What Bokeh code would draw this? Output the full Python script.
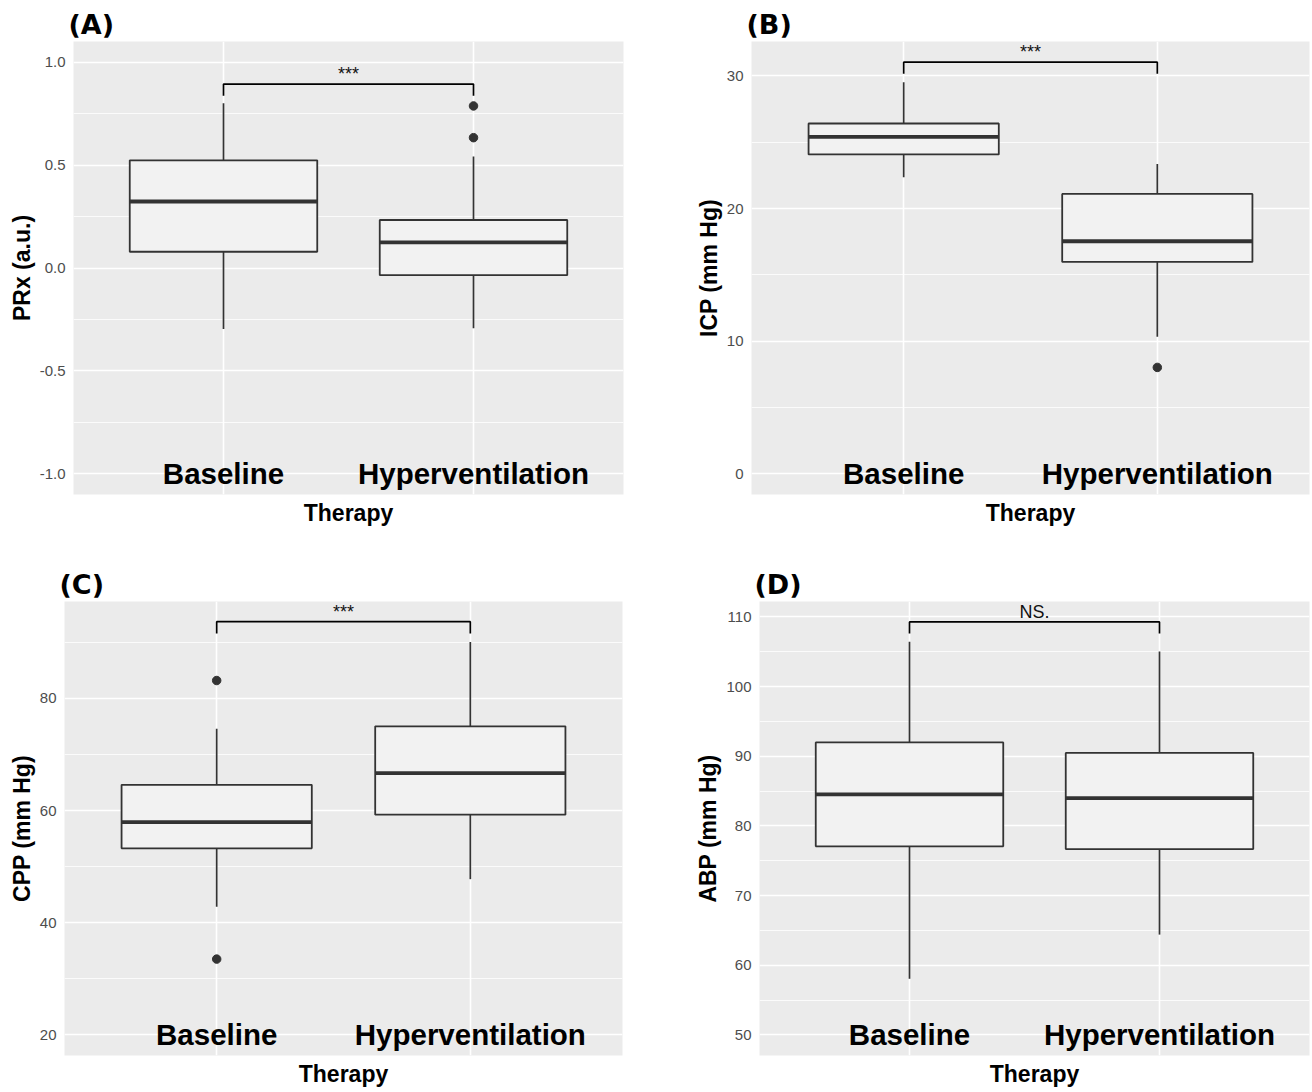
from bokeh.plotting import figure
from bokeh.layouts import row, column
from bokeh.models import Range1d, FixedTicker, ColumnDataSource
from bokeh.core.properties import value
from bokeh.embed import file_html
from bokeh.resources import INLINE

categories = ["Baseline", "Hyperventilation"]
x_title = "Therapy"

# (A) PRx
prx_lower = [-0.296, -0.293]
prx_q1 = [0.079, -0.035]
prx_median = [0.323, 0.124]
prx_q3 = [0.523, 0.233]
prx_upper = [0.800, 0.541]
prx_out_cat = ["Hyperventilation", "Hyperventilation"]
prx_out_val = [0.787, 0.633]
prx_bracket = [0.893, 0.837]
prx_sig = "***"
prx_ticks = [-1.0, -0.5, 0.0, 0.5, 1.0]
prx_tick_labels = ["-1.0", "-0.5", "0.0", "0.5", "1.0"]
prx_minor = [-0.75, -0.25, 0.25, 0.75]
prx_limits = [-1.1, 1.1]

# (B) ICP
icp_lower = [22.36, 10.34]
icp_q1 = [24.09, 15.98]
icp_median = [25.41, 17.54]
icp_q3 = [26.42, 21.11]
icp_upper = [29.53, 23.37]
icp_out_cat = ["Hyperventilation"]
icp_out_val = [8.03]
icp_bracket = [31.04, 30.16]
icp_sig = "***"
icp_ticks = [0, 10, 20, 30]
icp_tick_labels = ["0", "10", "20", "30"]
icp_minor = [5, 15, 25]
icp_limits = [-1.55, 32.6]

# (C) CPP
cpp_lower = [42.85, 47.76]
cpp_q1 = [53.27, 59.27]
cpp_median = [57.94, 66.67]
cpp_q3 = [64.6, 75.03]
cpp_upper = [74.6, 90.06]
cpp_out_cat = ["Baseline", "Baseline"]
cpp_out_val = [83.2, 33.5]
cpp_bracket = [93.7, 91.6]
cpp_sig = "***"
cpp_ticks = [20, 40, 60, 80]
cpp_tick_labels = ["20", "40", "60", "80"]
cpp_minor = [30, 50, 70, 90]
cpp_limits = [16.3, 97.3]

# (D) ABP
abp_lower = [58.05, 64.39]
abp_q1 = [77.06, 76.67]
abp_median = [84.51, 83.98]
abp_q3 = [91.97, 90.46]
abp_upper = [106.44, 105.03]
abp_out_cat = []
abp_out_val = []
abp_bracket = [109.27, 107.6]
abp_sig = "NS."
abp_ticks = [50, 60, 70, 80, 90, 100, 110]
abp_tick_labels = ["50", "60", "70", "80", "90", "100", "110"]
abp_minor = [55, 65, 75, 85, 95, 105]
abp_limits = [47.04, 112.2]

BOX_W = 0.75
DARK = "#333333"
TXT = "Liberation Sans"


def panel(tag, ylabel, lower, q1, med, q3, upper, out_cat, out_val, bracket,
          sig, ticks, tick_labels, minor, limits, width, height,
          bl, br, bt, bb):
    pos = [i + 1 for i in range(len(categories))]
    p = figure(width=width, height=height, output_backend="svg",
               toolbar_location=None, title=tag,
               x_range=Range1d(pos[0] - 0.6, pos[-1] + 0.6),
               y_range=Range1d(limits[0], limits[1]),
               min_border_left=bl, min_border_right=br,
               min_border_top=bt, min_border_bottom=bb)
    p.background_fill_color = "#EBEBEB"
    p.border_fill_color = "white"
    p.outline_line_color = None

    # title
    p.title.text_font = "DejaVu Sans"
    p.title.text_font_style = "bold"
    p.title.text_font_size = "27px"
    p.title.align = "left"
    p.title.offset = -5
    p.title.standoff = 3
    p.title.text_color = "black"

    # grids
    p.xgrid.ticker = FixedTicker(ticks=pos)
    p.xgrid.grid_line_color = "white"
    p.xgrid.grid_line_width = 1.6
    p.ygrid.ticker = FixedTicker(ticks=ticks, minor_ticks=minor)
    p.ygrid.grid_line_color = "white"
    p.ygrid.grid_line_width = 1.6
    p.ygrid.minor_grid_line_color = "white"
    p.ygrid.minor_grid_line_width = 0.8

    # y axis
    p.yaxis.ticker = FixedTicker(ticks=ticks)
    p.yaxis.major_label_overrides = {t: l for t, l in zip(ticks, tick_labels)}
    p.yaxis.axis_line_color = None
    p.yaxis.major_tick_line_color = None
    p.yaxis.minor_tick_line_color = None
    p.yaxis.major_tick_out = 0
    p.yaxis.major_tick_in = 0
    p.yaxis.minor_tick_out = 0
    p.yaxis.major_label_standoff = 8
    p.yaxis.major_label_text_font = TXT
    p.yaxis.major_label_text_font_size = "15px"
    p.yaxis.major_label_text_color = "#4D4D4D"
    p.yaxis.axis_label = ylabel
    p.yaxis.axis_label_text_font = TXT
    p.yaxis.axis_label_text_font_style = "bold"
    p.yaxis.axis_label_text_font_size = "23px"
    p.yaxis.axis_label_text_color = "black"
    p.yaxis.axis_label_standoff = 2

    # x axis
    p.xaxis.ticker = FixedTicker(ticks=[])
    p.xaxis.axis_line_color = None
    p.xaxis.major_tick_line_color = None
    p.xaxis.minor_tick_line_color = None
    p.xaxis.major_tick_out = 0
    p.xaxis.major_tick_in = 0
    p.xaxis.minor_tick_out = 0
    p.xaxis.major_label_standoff = 0
    p.xaxis.axis_label = x_title
    p.xaxis.axis_label_text_font = TXT
    p.xaxis.axis_label_text_font_style = "bold"
    p.xaxis.axis_label_text_font_size = "23px"
    p.xaxis.axis_label_text_color = "black"
    p.xaxis.axis_label_standoff = 5

    src = ColumnDataSource(dict(
        x=pos, lower=lower, q1=q1, med=med, q3=q3, upper=upper,
        x0=[v - BOX_W / 2 for v in pos], x1=[v + BOX_W / 2 for v in pos]))
    p.segment(x0="x", y0="q3", x1="x", y1="upper", source=src,
              line_color=DARK, line_width=1.7)
    p.segment(x0="x", y0="q1", x1="x", y1="lower", source=src,
              line_color=DARK, line_width=1.7)
    p.vbar(x="x", width=BOX_W, bottom="q1", top="q3", source=src,
           fill_color="#F2F2F2", line_color=DARK, line_width=1.8)
    p.segment(x0="x0", y0="med", x1="x1", y1="med", source=src,
              line_color=DARK, line_width=3.8)
    if out_val:
        ox = [pos[categories.index(c)] for c in out_cat]
        p.scatter(x=ox, y=out_val, size=8.5, color=DARK)

    # significance bracket
    p.line(x=[pos[0], pos[0], pos[-1], pos[-1]],
           y=[bracket[1], bracket[0], bracket[0], bracket[1]],
           line_color="black", line_width=1.7)
    p.text(x=[(pos[0] + pos[-1]) / 2], y=[bracket[0]], text=[sig],
           text_font=value(TXT), text_font_size="18px", text_color="#111111",
           text_align="center", text_baseline="alphabetic", y_offset=-10)

    # category labels inside the panel
    p.text(x=pos, y=[ticks[0]] * len(pos), text=categories,
           text_font=value(TXT), text_font_style="bold",
           text_font_size="29.5px", text_color="black",
           text_align="center", text_baseline="middle")
    return p


pA = panel("(A)", "PRx (a.u.)", prx_lower, prx_q1, prx_median, prx_q3, prx_upper,
           prx_out_cat, prx_out_val, prx_bracket, prx_sig, prx_ticks,
           prx_tick_labels, prx_minor, prx_limits, 655, 548, 73, 32, 40, 54)
pB = panel("(B)", "ICP (mm Hg)", icp_lower, icp_q1, icp_median, icp_q3, icp_upper,
           icp_out_cat, icp_out_val, icp_bracket, icp_sig, icp_ticks,
           icp_tick_labels, icp_minor, icp_limits, 655, 548, 96, 1, 41, 53)
pC = panel("(C)", "CPP (mm Hg)", cpp_lower, cpp_q1, cpp_median, cpp_q3, cpp_upper,
           cpp_out_cat, cpp_out_val, cpp_bracket, cpp_sig, cpp_ticks,
           cpp_tick_labels, cpp_minor, cpp_limits, 655, 542, 64, 33, 53, 35)
pD = panel("(D)", "ABP (mm Hg)", abp_lower, abp_q1, abp_median, abp_q3, abp_upper,
           abp_out_cat, abp_out_val, abp_bracket, abp_sig, abp_ticks,
           abp_tick_labels, abp_minor, abp_limits, 655, 542, 104, 1, 53, 35)

layout = column(row(pA, pB), row(pC, pD))
open("out.html", "w").write(file_html(layout, INLINE))
